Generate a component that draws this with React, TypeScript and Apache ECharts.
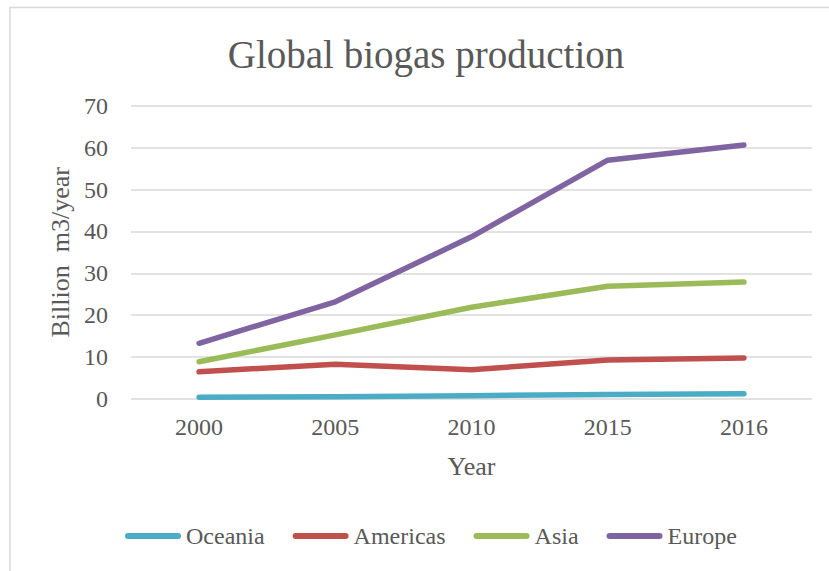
import React, { useEffect, useRef } from "react";
import * as echarts from "echarts";

const years = ["2000", "2005", "2010", "2015", "2016"];
const oceania = [0.4, 0.55, 0.8, 1.1, 1.25];
const americas = [6.5, 8.3, 7.0, 9.3, 9.8];
const asia = [8.9, 15.3, 21.9, 26.9, 27.9];
const europe = [13.3, 23.2, 38.7, 57.0, 60.6];

const FONT = "Liberation Serif";
const TEXT = "#595959";
const GRID = "#D9D9D9";
const legendIcon = "path://M3,0 H53 A3,3 0 0 1 53,6 H3 A3,3 0 0 1 3,0 Z";

function lineSeries(name: string, data: number[], color: string) {
  return {
    name,
    type: "line",
    data,
    showSymbol: false,
    symbol: "none",
    lineStyle: { width: 5.5, color, cap: "round", join: "round" },
    itemStyle: { color },
  };
}

export default function App() {
  const ref = useRef<HTMLDivElement>(null);

  useEffect(() => {
    document.body.style.margin = "0";
    const chart = echarts.init(ref.current!, null, { renderer: "svg" });
    chart.setOption({
      animation: false,
      backgroundColor: "#ffffff",
      textStyle: { fontFamily: FONT, color: TEXT },
      title: {
        text: "Global biogas production",
        left: 421,
        top: 30,
        textAlign: "center",
        textStyle: { fontFamily: FONT, fontSize: 39, fontWeight: "normal", color: TEXT },
      },
      graphic: [
        {
          type: "rect",
          shape: { x: 10, y: 7.5, width: 900, height: 700 },
          style: { fill: "none", stroke: GRID, lineWidth: 1.5 },
          silent: true,
        },
      ],
      grid: { left: 131, right: 17, top: 105.7, bottom: 172 },
      legend: {
        data: ["Oceania", "Americas", "Asia", "Europe"],
        left: 120,
        top: 519,
        itemWidth: 56,
        itemHeight: 6,
        itemGap: 28,
        icon: legendIcon,
        textStyle: { fontFamily: FONT, fontSize: 24, color: TEXT },
      },
      xAxis: {
        type: "category",
        data: years,
        boundaryGap: true,
        axisLine: { show: false },
        axisTick: { show: false },
        axisLabel: { fontFamily: FONT, fontSize: 24, color: TEXT, margin: 16 },
        name: "Year",
        nameLocation: "middle",
        nameGap: 54,
        nameTextStyle: { fontFamily: FONT, fontSize: 26, color: TEXT },
      },
      yAxis: {
        type: "value",
        min: 0,
        max: 70,
        interval: 10,
        axisLine: { show: false },
        axisTick: { show: false },
        axisLabel: { fontFamily: FONT, fontSize: 24, color: TEXT, margin: 23 },
        splitLine: { lineStyle: { color: GRID, width: 1.5 } },
        name: "Billion  m3/year",
        nameLocation: "middle",
        nameGap: 58,
        nameTextStyle: { fontFamily: FONT, fontSize: 26, color: TEXT },
      },
      series: [
        lineSeries("Oceania", oceania, "#4BACC6"),
        lineSeries("Americas", americas, "#C0504D"),
        lineSeries("Asia", asia, "#9BBB59"),
        lineSeries("Europe", europe, "#8064A2"),
      ],
    });
    return () => chart.dispose();
  }, []);

  return <div ref={ref} style={{ width: 829, height: 571 }} />;
}
